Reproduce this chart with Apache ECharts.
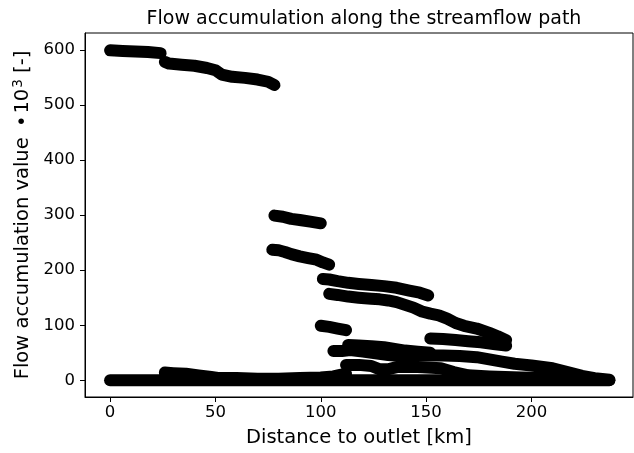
<!DOCTYPE html>
<html>
<head>
<meta charset="utf-8">
<script src="https://cdn.jsdelivr.net/npm/echarts@6/dist/echarts.min.js"></script>
<style>
  html, body { margin: 0; padding: 0; background: #fff; }
  #chart { width: 634px; height: 453px; }
</style>
</head>
<body>
<div id="chart"></div>
<script>
// Tick labels
const xTicks = [0, 50, 100, 150, 200];
const yTicks = [0, 100, 200, 300, 400, 500, 600];

// Runs of samples along the path: [distance km, accumulation x10^3]
const runTop      = [[0,599],[6,598],[12,597],[18,596],[24,594]];
const runUpper    = [[26,578],[28,575],[34,573],[40,571],[46,567],[50,563],[53,555],[58,551],[64,549],[70,546],[75,542],[78,536]];
const run300      = [[78,299],[82,297],[86,293],[90,291],[95,288],[100,285]];
const run237      = [[77,237],[80,236],[83,233],[86,229],[90,225],[94,222],[98,219],[101,214],[104,210]];
const run184      = [[101,184],[104,183],[108,180],[113,177],[118,175],[124,173],[130,171],[136,168],[142,163],[147,159],[151,154]];
const run157      = [[104,157],[108,155],[113,152],[118,150],[124,148],[128,147],[132,145],[136,142],[140,137],[144,132],[148,125],[152,121],[156,118],[160,112],[164,104],[168,99],[174,94],[180,86],[184,80],[188,73]];
const run99       = [[100,99],[104,97],[108,94],[112,91]];
const run76       = [[152,76],[158,75],[164,73],[170,71],[176,69],[182,66],[188,63]];
const run64       = [[113,64],[118,63],[124,62],[130,60],[135,57],[140,54],[146,52],[152,50]];
const run55       = [[106,53],[110,53],[114,55],[120,52],[126,49],[132,46],[138,44],[145,45],[150,45],[158,45],[166,44],[174,42],[180,38],[186,34],[192,30],[200,27],[210,22],[218,14],[224,8],[230,4],[237,1]];
const run28       = [[112,28],[118,28],[124,26],[128,20],[132,20],[136,24],[146,24],[157,22],[163,15],[170,9],[180,7],[195,5],[210,4],[225,2]];
const runLow      = [[26,14],[30,13],[36,12],[42,9],[48,6],[52,4],[60,4],[70,3],[80,3],[90,4],[100,5],[106,7],[112,12]];
const runZero     = [[0,0],[60,0],[120,0],[180,0],[237,0]];

const runs = [runTop, runUpper, run300, run237, run184, run157, run99, run76, run64, run55, run28, runLow, runZero];

const chart = echarts.init(document.getElementById('chart'), null, { renderer: 'canvas' });

const font = 'DejaVu Sans';

chart.setOption({
  animation: false,
  backgroundColor: '#ffffff',
  title: {
    text: 'Flow accumulation along the streamflow path',
    left: 359,
    textAlign: 'center',
    top: 5,
    textStyle: { fontFamily: font, fontSize: 19, fontWeight: 'normal', color: '#000' }
  },
  grid: {
    left: 85, right: 1, top: 33, bottom: 55,
    show: true, borderColor: '#000', borderWidth: 1, backgroundColor: 'transparent'
  },
  xAxis: {
    type: 'value',
    min: -11.9, max: 248.2,
    name: 'Distance to outlet [km]',
    nameLocation: 'middle',
    nameGap: 31,
    nameTextStyle: { fontFamily: font, fontSize: 19.5, color: '#000' },
    axisLine: { show: true, onZero: false, lineStyle: { color: '#000', width: 1 } },
    axisTick: { show: true, inside: false, length: 5, customValues: xTicks, lineStyle: { color: '#000' } },
    axisLabel: { customValues: xTicks, margin: 7, fontFamily: font, fontSize: 16.5, color: '#000' },
    splitLine: { show: false }
  },
  yAxis: {
    type: 'value',
    min: -30.3, max: 630.5,
    name: 'Flow accumulation value {b|•}10{sup|3} [-]',
    nameLocation: 'middle',
    nameGap: 48,
    nameTextStyle: {
      fontFamily: font, fontSize: 19.5, color: '#000',
      rich: {
        b: { fontFamily: font, fontSize: 19.5, color: '#000', padding: [0, 2, 0, 4] },
        sup: { fontFamily: font, fontSize: 13.5, color: '#000', verticalAlign: 'top', padding: [0, 0, 8, 1] }
      }
    },
    axisLine: { show: true, onZero: false, lineStyle: { color: '#000', width: 1 } },
    axisTick: { show: true, inside: false, length: 5, customValues: yTicks, lineStyle: { color: '#000' } },
    axisLabel: { customValues: yTicks, margin: 10, fontFamily: font, fontSize: 16.5, color: '#000' },
    splitLine: { show: false }
  },
  series: runs.map(r => ({
    type: 'line',
    data: r,
    showSymbol: false,
    symbol: 'none',
    silent: true,
    lineStyle: { color: '#000', width: 12, cap: 'round', join: 'round' }
  }))
});
</script>
</body>
</html>
